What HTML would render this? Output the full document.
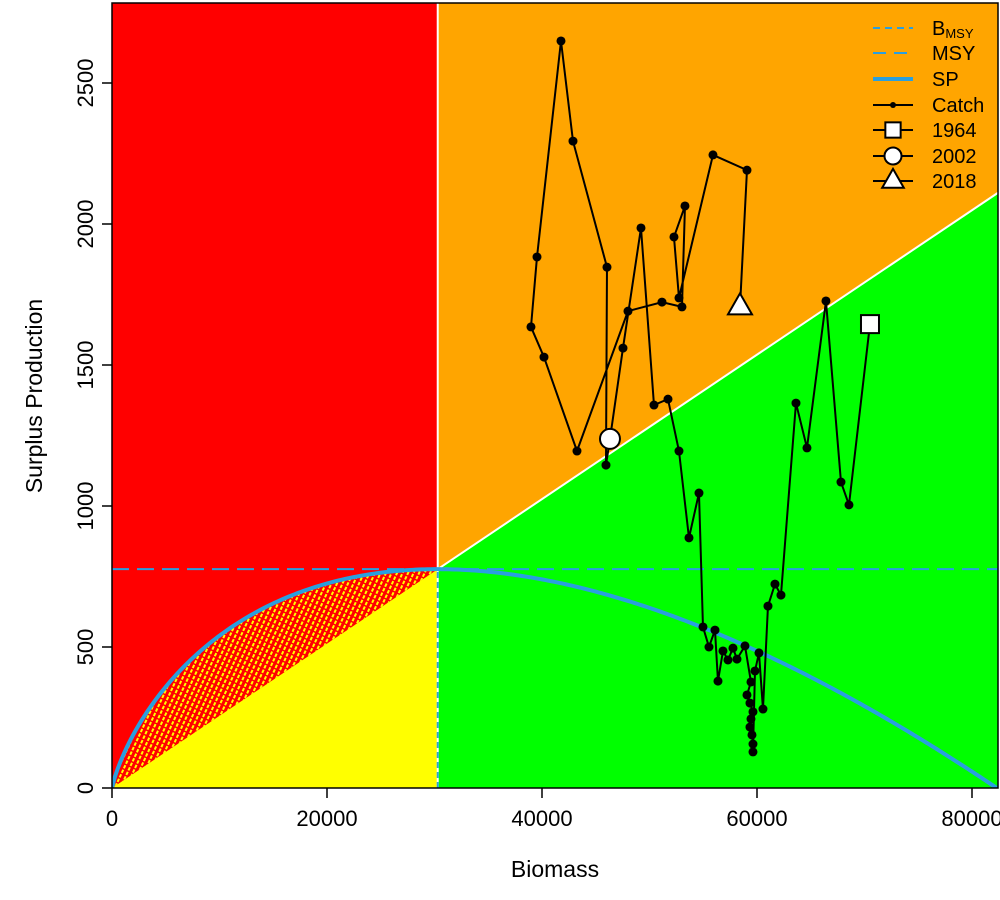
<!DOCTYPE html>
<html><head><meta charset="utf-8">
<style>
html,body{margin:0;padding:0;background:#fff;}
svg{display:block;font-family:"Liberation Sans",Arial,sans-serif;}
</style></head>
<body>
<svg id="chart" width="1000" height="900" viewBox="0 0 1000 900" xmlns="http://www.w3.org/2000/svg">
<defs>
<clipPath id="plotclip"><rect x="112" y="3" width="886" height="785"/></clipPath>
<pattern id="hatch" width="5" height="5" patternUnits="userSpaceOnUse" patternTransform="rotate(25)">
<rect width="5" height="5" fill="#ff0000"/>
<rect x="1" y="0.5" width="2" height="3.5" fill="#ffff00"/>
</pattern>
</defs>
<g id="plot" clip-path="url(#plotclip)"></g>
<g id="axes"></g>
<g id="legend"></g>
</svg>
<script>
var xTicks = [0, 20000, 40000, 60000, 80000];
var yTicks = [0, 500, 1000, 1500, 2000, 2500];
var bmsy = 30300;
var msy = 776;
var kBio = 82300;
var biomass = [70510,68556,67812,66416,64649,63626,62230,61672,61021,60556,60184,59812,59626,59626,59533,59347,59440,59626,59347,59068,59440,58882,58138,57765,57300,56835,56370,56091,55533,54975,54603,53673,52742,51719,50417,49208,47533,46324,45952,46045,42882,41766,39534,38975,40185,43254,47998,51161,53021,53300,52277,52742,55905,59068,58417];
var catchVals = [1645,1004,1085,1727,1206,1365,684,723,645,280,479,415,128,156,188,216,245,270,301,330,376,504,457,496,454,486,379,560,500,571,1046,887,1195,1379,1358,1986,1560,1238,1145,1847,2294,2649,1883,1635,1528,1195,1691,1723,1706,2064,1954,1738,2245,2191,1706];
var markYears = ["1964","2002","2018"];
var markIdx = [0, 37, 54];

var X0=112, XS=0.01075, Y0=788, YS=0.2820;
function sx(v){return X0+v*XS;}
function sy(v){return Y0-v*YS;}
var xMax=(998-X0)/XS, yMax=(Y0-3)/YS;
var NS="http://www.w3.org/2000/svg";
function mk(tag,attrs,parent){var e=document.createElementNS(NS,tag);for(var k in attrs)e.setAttribute(k,attrs[k]);parent.appendChild(e);return e;}
function sp(b){ if(b<=0) return 0; return msy*Math.E*(b/kBio)*Math.log(kBio/b);}
var plot=document.getElementById('plot');
var axes=document.getElementById('axes');
var legend=document.getElementById('legend');

var e;
e=mk('rect',{x:sx(0),y:sy(yMax),width:sx(bmsy)-sx(0),height:sy(0)-sy(yMax),fill:'#ff0000'},plot);


e=mk('rect',{x:sx(bmsy),y:sy(yMax),width:sx(xMax)-sx(bmsy),height:sy(0)-sy(yMax),fill:'#ffa500'},plot);


var slope=msy/bmsy;
e=mk('polygon',{points:[sx(bmsy),sy(msy),sx(xMax),sy(slope*xMax),sx(xMax),sy(0),sx(bmsy),sy(0)].join(' '),fill:'#00ff00'},plot);


e=mk('polygon',{points:[sx(0),sy(0),sx(bmsy),sy(msy),sx(bmsy),sy(0)].join(' '),fill:'#ffff00'},plot);


var hp=[];
for(var i=0;i<=100;i++){var b=bmsy*i/100;hp.push(sx(b)+','+sy(sp(b)));}
for(var i=100;i>=0;i--){var b=bmsy*i/100;hp.push(sx(b)+','+sy(slope*b));}
e=mk('polygon',{points:hp.join(' '),fill:'url(#hatch)'},plot);


e=mk('line',{x1:sx(bmsy),y1:sy(msy),x2:sx(xMax),y2:sy(slope*xMax),stroke:'#fff','stroke-width':2},plot);


e=mk('line',{x1:sx(bmsy),y1:sy(msy),x2:sx(bmsy),y2:sy(yMax),stroke:'#fff','stroke-width':2},plot);


e=mk('line',{x1:sx(bmsy),y1:sy(0),x2:sx(bmsy),y2:sy(msy),stroke:'#fff','stroke-width':2},plot);


e=mk('line',{x1:sx(bmsy),y1:sy(0),x2:sx(bmsy),y2:sy(msy),stroke:'#2a9fdf','stroke-width':2,'stroke-dasharray':'6,4'},plot);


e=mk('line',{x1:sx(0),y1:sy(msy),x2:sx(xMax),y2:sy(msy),stroke:'#2a9fdf','stroke-width':2,'stroke-dasharray':'17,8'},plot);


var cp=[];
for(var i=0;i<=300;i++){var b=kBio*i/300;cp.push(sx(b)+','+sy(sp(b)));}
e=mk('polyline',{points:cp.join(' '),fill:'none',stroke:'#2a9fdf','stroke-width':4},plot);


var lp=[];
for(var i=0;i<biomass.length;i++)lp.push(sx(biomass[i])+','+sy(catchVals[i]));
e=mk('polyline',{points:lp.join(' '),fill:'none',stroke:'#000','stroke-width':2},plot);


for(var i=0;i<biomass.length;i++){
 e=mk('circle',{cx:sx(biomass[i]),cy:sy(catchVals[i]),r:4.5,fill:'#000'},plot);
 
 
}
function marker(kind,x,y,parent,s){
 var m;
 if(kind==0)m=mk('rect',{x:x-s*0.9,y:y-s*0.9,width:1.8*s,height:1.8*s,fill:'#fff',stroke:'#000','stroke-width':2},parent);
 else if(kind==1)m=mk('circle',{cx:x,cy:y,r:s,fill:'#fff',stroke:'#000','stroke-width':2},parent);
 else m=mk('polygon',{points:[x,y-s*1.35,x-s*1.2,y+s*0.75,x+s*1.2,y+s*0.75].join(' '),fill:'#fff',stroke:'#000','stroke-width':2},parent);
 return m;
}
for(var j=0;j<markIdx.length;j++){
 e=marker(j,sx(biomass[markIdx[j]]),sy(catchVals[markIdx[j]]),plot,10);
 
 
}
// axes
e=mk('rect',{x:112,y:3,width:886,height:785,fill:'none',stroke:'#000','stroke-width':1.5},axes);


for(var i=0;i<xTicks.length;i++){
 var x=sx(xTicks[i]);
 e=mk('line',{x1:x,y1:788,x2:x,y2:798,stroke:'#000','stroke-width':1.5},axes);
 
 
 e=mk('text',{x:x,y:826,'font-size':22,'text-anchor':'middle',fill:'#000'},axes);
 e.textContent=xTicks[i];
 
 
}
for(var i=0;i<yTicks.length;i++){
 var y=sy(yTicks[i]);
 e=mk('line',{x1:102,y1:y,x2:112,y2:y,stroke:'#000','stroke-width':1.5},axes);
 
 
 e=mk('text',{x:0,y:0,'font-size':22,'text-anchor':'middle',fill:'#000',transform:'translate(93,'+y+') rotate(-90)'},axes);
 e.textContent=yTicks[i];
 
 
}
e=mk('text',{x:555,y:877,'font-size':23,'text-anchor':'middle',fill:'#000'},axes);
e.textContent='Biomass';


e=mk('text',{x:0,y:0,'font-size':23,'text-anchor':'middle',fill:'#000',transform:'translate(42,396) rotate(-90)'},axes);
e.textContent='Surplus Production';


// legend
var ly=[28,53,79,105,130,156,181];
var lx1=873,lx2=913,tx=932;
function ltext(y,t){var t1=mk('text',{x:tx,y:y+7,'font-size':20,fill:'#000'},legend);t1.textContent=t;return t1;}
e=mk('line',{x1:lx1,y1:ly[0],x2:lx2,y2:ly[0],stroke:'#2a9fdf','stroke-width':2,'stroke-dasharray':'7,5'},legend);


e=mk('text',{x:tx,y:ly[0]+7,'font-size':20,fill:'#000'},legend);
e.innerHTML='B<tspan font-size="13" dy="3">MSY</tspan>';


e=mk('line',{x1:lx1,y1:ly[1],x2:lx2,y2:ly[1],stroke:'#2a9fdf','stroke-width':2,'stroke-dasharray':'13,8'},legend);


e=ltext(ly[1],'MSY');


e=mk('line',{x1:lx1,y1:ly[2],x2:lx2,y2:ly[2],stroke:'#2a9fdf','stroke-width':4},legend);


e=ltext(ly[2],'SP');


e=mk('line',{x1:lx1,y1:ly[3],x2:lx2,y2:ly[3],stroke:'#000','stroke-width':2},legend);


e=mk('circle',{cx:893,cy:ly[3],r:3,fill:'#000'},legend);


e=ltext(ly[3],'Catch');


for(var j=0;j<3;j++){
 var yy=ly[4+j];
 e=mk('line',{x1:lx1,y1:yy,x2:lx2,y2:yy,stroke:'#000','stroke-width':2},legend);
 
 
 e=marker(j,893,yy,legend,j==2?9:8.5);
 
 
 e=ltext(yy,markYears[j]);
 
 
}
</script>
</body></html>
